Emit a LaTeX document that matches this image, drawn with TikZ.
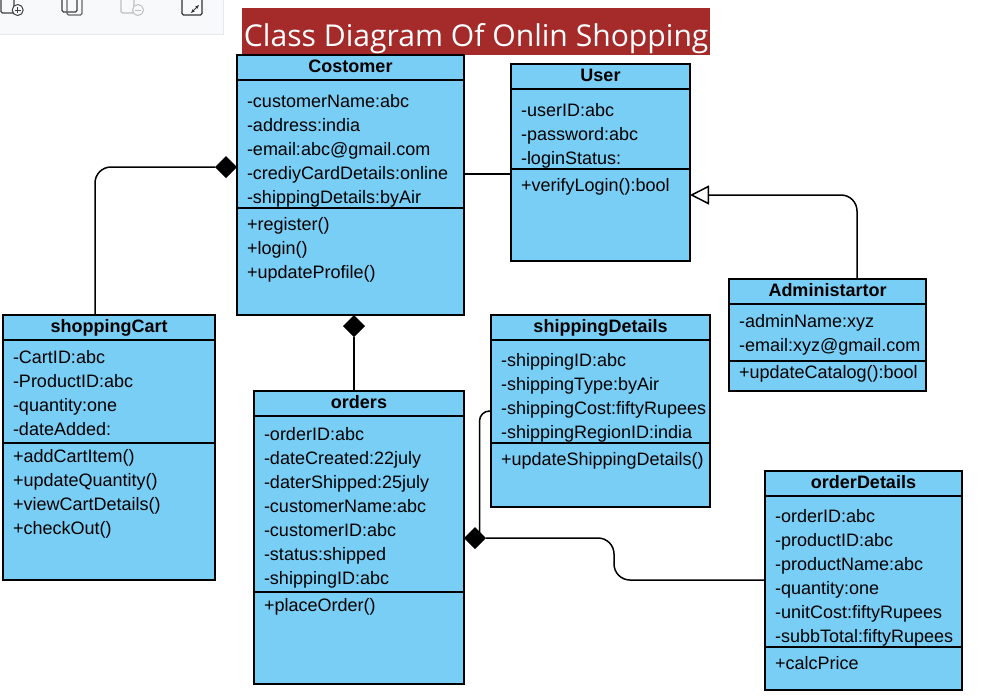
\documentclass[tikz,border=0pt]{standalone}
\usepackage{fontspec}
\setmainfont{Liberation Sans}
\newfontfamily\headfont{Open Sans}
\usetikzlibrary{arrows.meta, shapes.geometric}
\definecolor{umlblue}{HTML}{79CEF6}
\definecolor{headred}{HTML}{A52A2A}
\definecolor{barfill}{HTML}{F8F9FB}
\definecolor{barline}{HTML}{E6E8EC}

\begin{document}
\begin{tikzpicture}[x=1pt, y=-1pt,
    umlbox/.style={
        draw=black, line width=1.5pt, fill=umlblue, rectangle,
        inner sep=0, outer sep=0, anchor=north west},
    umltitle/.style={
        font=\fontsize{18}{20}\selectfont\bfseries, anchor=north,
        inner sep=0, outer sep=0, minimum height=25,
        text height=14, text depth=4},
    members/.style={
        font=\fontsize{18}{24}\selectfont, align=left, anchor=north west,
        inner sep=0, outer sep=0},
    umlline/.style={line width=1.5pt},
    conn/.style={line width=1.5pt, rounded corners=16},
    composite/.style={
        diamond, fill=black, aspect=1, inner sep=0, outer sep=0,
        minimum width=22, minimum height=22},
    icon/.style={line width=1.1pt, rounded corners=1.5}]
    \useasboundingbox (0,0) rectangle (993,697);

    % toolbar cut off by the top edge
    \begin{scope}
        \clip (0,0) rectangle (993,697);
        \draw[barline, fill=barfill, line width=1pt] (-3,-3) rectangle (223,34);
        \draw[icon, black!75] (1,-4) rectangle (14,13);
        \draw[black!75, fill=barfill, line width=1pt] (17.7,10) circle (5.5);
        \draw[black!75, line width=0.9pt] (14.7,10) -- (20.7,10) (17.7,7) -- (17.7,13);
        \draw[icon, black!75] (62,-4) rectangle (77,12);
        \draw[icon, black!60, line width=1.3pt] (67,0) -- (67,15) -- (82,15) -- (82,-4);
        \draw[icon, black!25] (121,-4) rectangle (134,13);
        \draw[black!25, fill=barfill, line width=1pt] (138,10) circle (5.5);
        \draw[black!25, line width=0.9pt] (135,10) -- (141,10);
        \draw[icon, black!80] (182,-4) rectangle (202,15);
        \draw[black!80, line width=1pt, {Stealth[length=4pt]}-{Stealth[length=4pt]}] (191,13) -- (199,5);
    \end{scope}

    % heading
    \node[fill=headred, text=white, font=\headfont\fontsize{30.1}{34}\selectfont,
        minimum width=468, minimum height=47, inner sep=0, anchor=north west,
        text height=30, text depth=1]
        (heading) at (242,8) {Class Diagram Of Onlin Shopping};

    % Costomer
    \node[umlbox, minimum width=227, minimum height=260] (customer) at (237,55) {};
    \node[umltitle] (customerTitle) at (customer.north) {Costomer};
    \draw[umlline] (customer.west |- customerTitle.south) -- (customer.east |- customerTitle.south);
    \node[members] (customerAttrs) at (247,91) {
        \strut-customerName:abc\\
        \strut-address:india\\
        \strut-email:abc@gmail.com\\
        \strut-crediyCardDetails:online\\
        \strut-shippingDetails:byAir};
    \draw[umlline] (customer.west |- 0,208) -- (customer.east |- 0,208);
    \node[members] (customerOps) at (247,214) {
        \strut+register()\\
        \strut+login()\\
        \strut+updateProfile()};

    % User
    \node[umlbox, minimum width=179, minimum height=197] (user) at (511,64) {};
    \node[umltitle] (userTitle) at (user.north) {User};
    \draw[umlline] (user.west |- userTitle.south) -- (user.east |- userTitle.south);
    \node[members] (userAttrs) at (521,100) {
        \strut-userID:abc\\
        \strut-password:abc\\
        \strut-loginStatus:};
    \draw[umlline] (user.west |- 0,169) -- (user.east |- 0,169);
    \node[members] (userOps) at (521,175) {\strut+verifyLogin():bool};

    % Administartor
    \node[umlbox, minimum width=197, minimum height=112] (admin) at (729,279) {};
    \node[umltitle] (adminTitle) at (admin.north) {Administartor};
    \draw[umlline] (admin.west |- adminTitle.south) -- (admin.east |- adminTitle.south);
    \node[members] (adminAttrs) at (739,311) {
        \strut-adminName:xyz\\
        \strut-email:xyz@gmail.com};
    \draw[umlline] (admin.west |- 0,361) -- (admin.east |- 0,361);
    \node[members] (adminOps) at (739,362) {\strut+updateCatalog():bool};

    % shoppingCart
    \node[umlbox, minimum width=212, minimum height=265] (cart) at (3,315) {};
    \node[umltitle] (cartTitle) at (cart.north) {shoppingCart};
    \draw[umlline] (cart.west |- cartTitle.south) -- (cart.east |- cartTitle.south);
    \node[members] (cartAttrs) at (13,347) {
        \strut-CartID:abc\\
        \strut-ProductID:abc\\
        \strut-quantity:one\\
        \strut-dateAdded:};
    \draw[umlline] (cart.west |- 0,443) -- (cart.east |- 0,443);
    \node[members] (cartOps) at (13,446) {
        \strut+addCartItem()\\
        \strut+updateQuantity()\\
        \strut+viewCartDetails()\\
        \strut+checkOut()};

    % orders
    \node[umlbox, minimum width=210, minimum height=293] (orders) at (254,391) {};
    \node[umltitle] (ordersTitle) at (orders.north) {orders};
    \draw[umlline] (orders.west |- ordersTitle.south) -- (orders.east |- ordersTitle.south);
    \node[members] (ordersAttrs) at (264,424) {
        \strut-orderID:abc\\
        \strut-dateCreated:22july\\
        \strut-daterShipped:25july\\
        \strut-customerName:abc\\
        \strut-customerID:abc\\
        \strut-status:shipped\\
        \strut-shippingID:abc};
    \draw[umlline] (orders.west |- 0,592) -- (orders.east |- 0,592);
    \node[members] (ordersOps) at (264,595) {\strut+placeOrder()};

    % shippingDetails
    \node[umlbox, minimum width=219, minimum height=192] (shipping) at (491,315) {};
    \node[umltitle] (shippingTitle) at (shipping.north) {shippingDetails};
    \draw[umlline] (shipping.west |- shippingTitle.south) -- (shipping.east |- shippingTitle.south);
    \node[members] (shippingAttrs) at (501,350) {
        \strut-shippingID:abc\\
        \strut-shippingType:byAir\\
        \strut-shippingCost:fiftyRupees\\
        \strut-shippingRegionID:india};
    \draw[umlline] (shipping.west |- 0,443) -- (shipping.east |- 0,443);
    \node[members] (shippingOps) at (501,449) {\strut+updateShippingDetails()};

    % orderDetails
    \node[umlbox, minimum width=197, minimum height=219] (details) at (765,471) {};
    \node[umltitle] (detailsTitle) at (details.north) {orderDetails};
    \draw[umlline] (details.west |- detailsTitle.south) -- (details.east |- detailsTitle.south);
    \node[members] (detailsAttrs) at (775,506) {
        \strut-orderID:abc\\
        \strut-productID:abc\\
        \strut-productName:abc\\
        \strut-quantity:one\\
        \strut-unitCost:fiftyRupees\\
        \strut-subbTotal:fiftyRupees};
    \draw[umlline] (details.west |- 0,647) -- (details.east |- 0,647);
    \node[members] (detailsOps) at (775,653) {\strut+calcPrice};

    % connectors
    \node[composite, anchor=east] (customerCart) at (customer.west |- 0,167) {};
    \node[composite, anchor=north] (customerOrders) at (354,315) {};
    \node[composite, anchor=west] (ordersHub) at (orders.east |- 0,538) {};
    \coordinate (cartTop) at (cart.north west -| 95,0);
    \coordinate (ordersTop) at (orders.north west -| 354,0);
    \coordinate (adminTop) at (admin.north west -| 857,0);

    \draw[conn] (customerCart.west) -| (cartTop);
    \draw[umlline] (customerOrders.south) -- (ordersTop);
    \draw[umlline] (customer.east |- 0,174) -- (user.west |- 0,174);
    \draw[conn, -{Triangle[open, fill=white, length=19pt, width=19pt, line width=1.5pt]}]
        (adminTop) |- (user.east |- 0,195);
    \draw[conn, rounded corners=10] ([xshift=4.5]ordersHub.center) |- (shipping.west |- 0,411);
    \draw[conn] (ordersHub.east) -- (614,538) -- (614,580) -- (details.west |- 0,580);
\end{tikzpicture}
\end{document}
